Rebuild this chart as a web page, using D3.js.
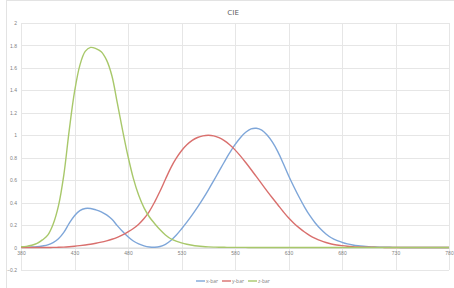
<!DOCTYPE html>
<html><head><meta charset="utf-8">
<script src="https://cdn.jsdelivr.net/npm/d3@7"></script>
<style>
html,body{margin:0;padding:0;background:#fff;}
svg{display:block;font-family:"Open Sans","Liberation Sans",sans-serif;}
</style></head>
<body><svg id="c" width="454" height="288"></svg>
<script>
const wavelengths = [380,385,390,395,400,405,410,415,420,425,430,435,440,445,450,455,460,465,470,475,480,485,490,495,500,505,510,515,520,525,530,535,540,545,550,555,560,565,570,575,580,585,590,595,600,605,610,615,620,625,630,635,640,645,650,655,660,665,670,675,680,685,690,695,700,705,710,715,720,725,730,735,740,745,750,755,760,765,770,775,780];
const xbar = [0.001368,0.002236,0.004243,0.00765,0.01431,0.02319,0.04351,0.07763,0.13438,0.21477,0.2839,0.3285,0.34828,0.34806,0.3362,0.3187,0.2908,0.2511,0.19536,0.1421,0.09564,0.05795,0.03201,0.0147,0.0049,0.0024,0.0093,0.0291,0.06327,0.1096,0.1655,0.22575,0.2904,0.3597,0.43345,0.51205,0.5945,0.6784,0.7621,0.8425,0.9163,0.9786,1.0263,1.0567,1.0622,1.0456,1.0026,0.9384,0.85445,0.7514,0.6424,0.5419,0.4479,0.3608,0.2835,0.2187,0.1649,0.1212,0.0874,0.0636,0.04677,0.0329,0.0227,0.01584,0.011359,0.008111,0.00579,0.004109,0.002899,0.002049,0.00144,0.001,0.00069,0.000476,0.000332,0.000235,0.000166,0.000117,0.000083,0.000059,0.000042];
const ybar = [0.000039,0.000064,0.00012,0.000217,0.000396,0.00064,0.00121,0.00218,0.004,0.0073,0.0116,0.01684,0.023,0.0298,0.038,0.048,0.06,0.0739,0.09098,0.1126,0.13902,0.1693,0.20802,0.2586,0.323,0.4073,0.503,0.6082,0.71,0.7932,0.862,0.91485,0.954,0.9803,0.99495,1.0,0.995,0.9786,0.952,0.9154,0.87,0.8163,0.757,0.6949,0.631,0.5668,0.503,0.4412,0.381,0.321,0.265,0.217,0.175,0.1382,0.107,0.0816,0.061,0.04458,0.032,0.0232,0.017,0.01192,0.00821,0.005723,0.004102,0.002929,0.002091,0.001484,0.001047,0.00074,0.00052,0.000361,0.000249,0.000172,0.00012,0.000085,0.00006,0.000042,0.00003,0.000021,0.000015];
const zbar = [0.00645,0.01055,0.02005,0.03621,0.06785,0.1102,0.2074,0.3713,0.6456,1.03905,1.3856,1.62296,1.74706,1.7826,1.77211,1.7441,1.6692,1.5281,1.28764,1.0419,0.81295,0.6162,0.46518,0.3533,0.272,0.2123,0.1582,0.1117,0.07825,0.05725,0.04216,0.02984,0.0203,0.0134,0.00875,0.00575,0.0039,0.00275,0.0021,0.0018,0.00165,0.0014,0.0011,0.001,0.0008,0.0006,0.00034,0.00024,0.00019,0.0001,0.00005,0.00003,0.00002,0.00001,0,0,0,0,0,0,0,0,0,0,0,0,0,0,0,0,0,0,0,0,0,0,0,0,0,0,0];
const xTicks = [380,430,480,530,580,630,680,730,780];
const yTicks = [-0.2,0,0.2,0.4,0.6,0.8,1,1.2,1.4,1.6,1.8,2];
const seriesNames = ["x-bar","y-bar","z-bar"];
const colors = ["#7ea6d9","#d96f6d","#a8c86a"];
const title = "CIE";

const svg = d3.select("#c");
svg.append("rect").attr("x",6.5).attr("y",0.5).attr("width",470).attr("height",320)
  .attr("fill","none").attr("stroke","#e3e3e3");

const m = {l:21, r:449, t:23, b:270};
const x = d3.scaleLinear().domain([380,780]).range([m.l,m.r]);
const y = d3.scaleLinear().domain([-0.2,2]).range([m.b,m.t]);

const g = svg.append("g");
g.selectAll("line.h").data(yTicks).join("line")
  .attr("x1",m.l).attr("x2",m.r).attr("y1",d=>Math.round(y(d))+0.5).attr("y2",d=>Math.round(y(d))+0.5)
  .attr("stroke","#e6e6e6").attr("stroke-width",1);
g.selectAll("line.v").data(xTicks).join("line")
  .attr("y1",m.t).attr("y2",m.b).attr("x1",d=>Math.round(x(d))+0.5).attr("x2",d=>Math.round(x(d))+0.5)
  .attr("stroke","#e6e6e6").attr("stroke-width",1);

// axes labels
const yAxis = d3.axisLeft(y).tickValues(yTicks).tickSize(0).tickPadding(4)
  .tickFormat(d=>d3.format("~g")(d));
const ya = svg.append("g").attr("transform",`translate(${m.l},0)`).call(yAxis);
ya.select(".domain").remove();
ya.selectAll("text").attr("font-size",5).attr("fill","#7f7f7f");

const xAxis = d3.axisBottom(x).tickValues(xTicks).tickSize(0).tickPadding(4);
const xa = svg.append("g").attr("transform",`translate(0,${y(0)})`).call(xAxis);
xa.select(".domain").attr("stroke","#d9d9d9");
xa.selectAll("text").attr("font-size",5).attr("fill","#7f7f7f");

const all = [xbar,ybar,zbar];
const line = d3.line().x((d,i)=>x(wavelengths[i])).y(d=>y(d)).curve(d3.curveCatmullRom);
all.forEach((s,k)=>{
  svg.append("path").datum(s).attr("d",line).attr("fill","none")
    .attr("stroke",colors[k]).attr("stroke-width",1.4);
});

svg.append("text").attr("x",233).attr("y",15).attr("text-anchor","middle")
  .attr("font-size",8).attr("fill","#595959").text(title);

// legend
const lx = [196,222,248];
seriesNames.forEach((n,k)=>{
  svg.append("line").attr("x1",lx[k]).attr("x2",lx[k]+9).attr("y1",281).attr("y2",281)
    .attr("stroke",colors[k]).attr("stroke-width",1.4);
  svg.append("text").attr("x",lx[k]+10).attr("y",282.8).attr("font-size",5).attr("fill","#7f7f7f").text(n);
});
</script></body></html>
